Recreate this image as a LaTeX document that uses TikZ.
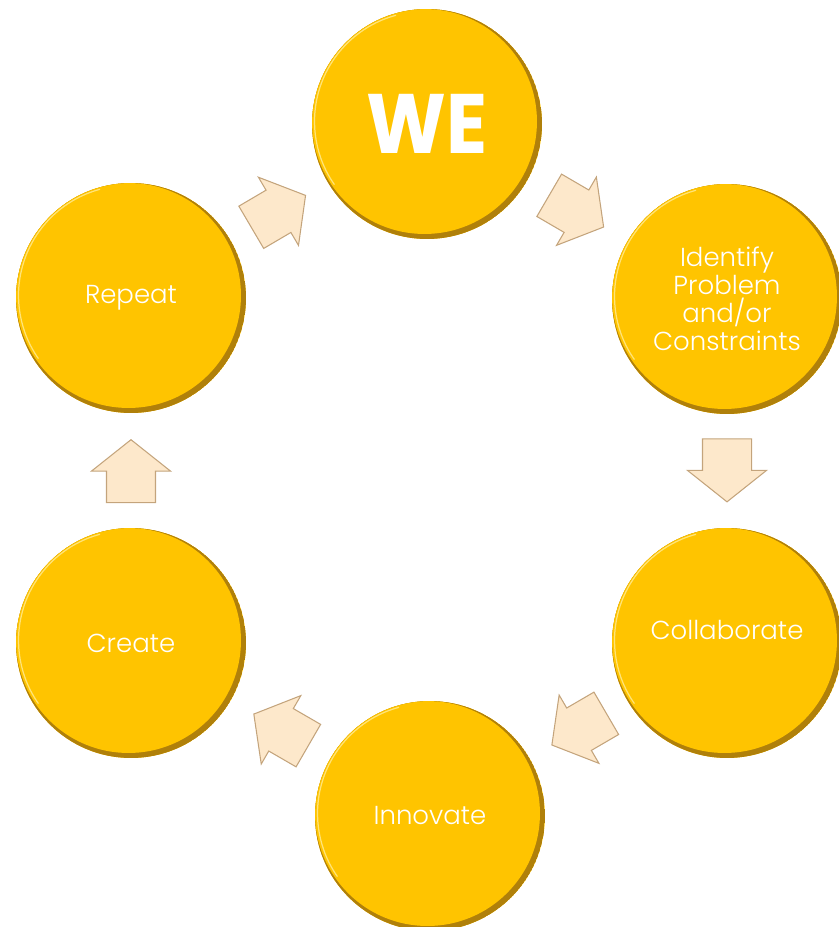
\documentclass[tikz,border=0pt]{standalone}
\usepackage{fontspec}
\setmainfont{Poppins}[UprightFont=* Light, BoldFont=* Bold]
\usetikzlibrary{shapes.arrows,calc}
\definecolor{goldMain}{RGB}{255,196,0}
\definecolor{goldDark}{RGB}{176,128,10}
\definecolor{goldLight}{RGB}{255,228,120}
\definecolor{peach}{RGB}{253,232,203}
\definecolor{peachEdge}{RGB}{196,164,124}
\tikzset{
  stagecircle/.style={circle, minimum size=4.6cm, inner sep=0pt, fill=goldMain,
    text=white, align=center, font=\fontsize{14.8}{15.9}\selectfont,
    path picture={
      \fill[goldDark] (path picture bounding box.center) circle (2.3cm);
      \fill[goldMain] ([shift={(-0.05cm,0.05cm)}]path picture bounding box.center) circle (2.25cm);
      \draw[goldLight, line width=0.7pt] ([shift={(-0.05cm,0.05cm)}]path picture bounding box.center) ++(105:2.2cm) arc (105:215:2.2cm);
    }},
  blockarrow/.style={single arrow, sloped, allow upside down, anchor=tip, fill=peach, draw=peachEdge,
    line width=0.6pt, minimum height=1.26cm, minimum width=1.56cm,
    single arrow head extend=0.3cm, single arrow tip angle=103,
    inner xsep=0pt, inner ysep=0.48cm}
}
\begin{document}
\begin{tikzpicture}[x=0.02cm, y=-0.02cm]
\useasboundingbox (0,0) rectangle (839,927);
\node[stagecircle] (we) at (427,124) {\fontsize{48}{48}\selectfont\bfseries\scalebox{0.9}[1]{WE}};
\node[stagecircle] (idf) at (727,299) {Identify\\Problem\\and/or\\Constraints};
\node[stagecircle] (col) at (727,643) {\raisebox{0.52cm}{Collaborate}};
\node[stagecircle] (inn) at (430,816) {Innovate};
\node[stagecircle] (cre) at (131,643) {Create};
\node[stagecircle] (rep) at (131,298) {Repeat};
\coordinate (m1) at ($(we)!0.5!(idf)$);
\coordinate (m2) at ($(idf)!0.5!(col)$);
\coordinate (m3) at ($(col)!0.5!(inn)$);
\coordinate (m4) at ($(inn)!0.5!(cre)$);
\coordinate (m5) at ($(cre)!0.5!(rep)$);
\coordinate (m6) at ($(rep)!0.5!(we)$);
\path (m1) -- ($(m1)!0.63cm!(idf)$) node[blockarrow, pos=1] (a1) {};
\path (m2) -- ($(m2)!0.63cm!(col)$) node[blockarrow, pos=1] (a2) {};
\path (m3) -- ($(m3)!0.63cm!(inn)$) node[blockarrow, pos=1] (a3) {};
\path (m4) -- ($(m4)!0.63cm!(cre)$) node[blockarrow, pos=1] (a4) {};
\path (m5) -- ($(m5)!0.63cm!(rep)$) node[blockarrow, pos=1] (a5) {};
\path (m6) -- ($(m6)!0.63cm!(we)$) node[blockarrow, pos=1] (a6) {};
\end{tikzpicture}
\end{document}
